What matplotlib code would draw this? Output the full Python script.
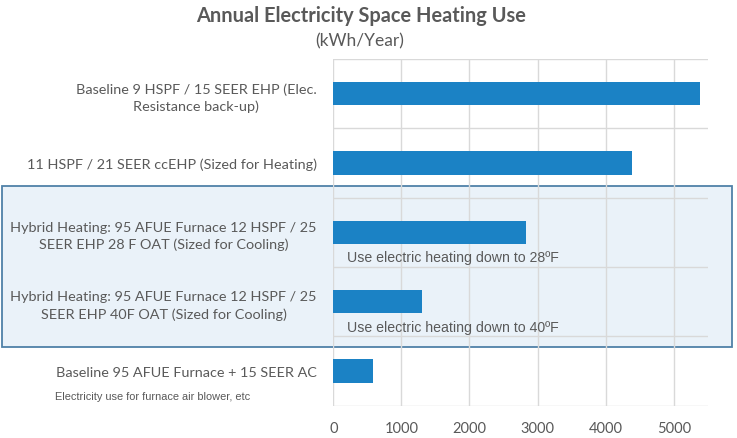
import matplotlib.pyplot as plt
from matplotlib.patches import Rectangle

# Chart data
categories = [
    "Baseline 9 HSPF / 15 SEER EHP (Elec.\nResistance back-up)",
    "11 HSPF / 21 SEER ccEHP (Sized for Heating)",
    "Hybrid Heating: 95 AFUE Furnace 12 HSPF / 25\nSEER EHP 28 F OAT (Sized for Cooling)",
    "Hybrid Heating: 95 AFUE Furnace 12 HSPF / 25\nSEER EHP 40F OAT (Sized for Cooling)",
    "Baseline 95 AFUE Furnace + 15 SEER AC",
]
values = [5390, 4390, 2830, 1300, 580]
ticks = [0, 1000, 2000, 3000, 4000, 5000]
notes = {2: "Use electric heating down to 28ºF", 3: "Use electric heating down to 40ºF"}

text_color = "#595959"
bar_color = "#1b82c5"
grid_color = "#d9d9d9"

fig = plt.figure(figsize=(7.37, 4.39), dpi=100)
ax = fig.add_axes([0.4523, 0.0736, 0.508, 0.7897])
ax.patch.set_alpha(0)

# highlighted region behind the hybrid options
box = Rectangle((2 / 737, 1 - 348 / 439), 730 / 737, 161 / 439,
                transform=fig.transFigure, facecolor="#eaf2f9",
                edgecolor="#4f81a8", linewidth=1.3, zorder=-1)
fig.patches.append(box)

y = list(range(len(categories)))
ax.barh(y, values, height=0.34, color=bar_color, zorder=3)

ax.set_xlim(0, 5500)
ax.set_ylim(len(categories) - 0.5, -0.5)
ax.set_xticks(ticks)
ax.set_xticklabels([str(t) for t in ticks], fontsize=10.5, color=text_color, family="Lato")
ax.set_yticks(y)
ax.set_yticklabels(categories, fontsize=10.4, color=text_color, family="Lato",
                   multialignment="center", linespacing=1.45)
ax.tick_params(length=0, axis="y", pad=12)
ax.tick_params(length=0, axis="x", pad=11)

ax.set_yticks([i - 0.5 for i in range(len(categories) + 1)], minor=True)
ax.tick_params(which="minor", length=0)
ax.grid(True, axis="x", color=grid_color, linewidth=1, zorder=0)
ax.grid(True, axis="y", which="minor", color=grid_color, linewidth=1, zorder=0)
for s in ax.spines.values():
    s.set_visible(False)

for i, txt in notes.items():
    ax.text(200, i + 0.36, txt, fontsize=10.2, color=text_color,
            family="Liberation Sans", va="center", ha="left")

fig.text(55 / 737, 1 - 397 / 439, "Electricity use for furnace air blower, etc",
         fontsize=7.9, color=text_color, family="Liberation Sans", va="center")

fig.text(361 / 737, 1 - 16 / 439, "Annual Electricity Space Heating Use", ha="center",
         va="center", fontsize=14.4, fontweight="bold", color=text_color, family="Lato")
fig.text(360 / 737, 1 - 41 / 439, "(kWh/Year)", ha="center", va="center",
         fontsize=12.5, color=text_color, family="Lato")

fig.savefig("out.png", dpi=100)
